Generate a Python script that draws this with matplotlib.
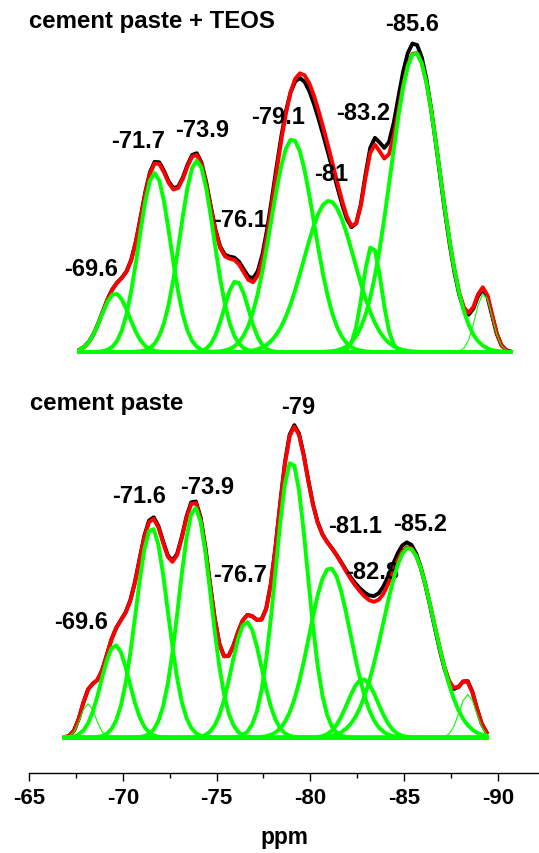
import numpy as np
import matplotlib
matplotlib.use('Agg')
import matplotlib.pyplot as plt
from matplotlib.ticker import MultipleLocator

plt.rcParams['font.family'] = ['Liberation Sans', 'DejaVu Sans']
plt.rcParams['font.weight'] = 'bold'

# fitted peaks, cement paste + TEOS (top trace)
teos_centers = [-69.6, -71.7, -73.95, -76.05, -79.05, -81.0, -83.3, -85.6, -89.25]
teos_heights = [0.19, 0.58, 0.62, 0.23, 0.69, 0.49, 0.345, 0.97, 0.19]
teos_sigmas = [0.75, 0.85, 0.9, 0.65, 1.15, 1.35, 0.5, 1.3, 0.45]
# measured spectrum, drawn as the same band set with its own positions/heights
teos_exp_centers = [-69.6, -71.7, -73.95, -76.05, -79.0, -81.0, -83.3, -85.55, -89.25]
teos_exp_heights = [0.19, 0.585, 0.625, 0.235, 0.69, 0.48, 0.345, 1.0, 0.185]
teos_labels = ['-69.6', '-71.7', '-73.9', '-76.1', '-79.1', '-81', '-83.2', '-85.6']
teos_range = (-67.7, -90.85)

# fitted peaks, cement paste (bottom trace)
cp_centers = [-68.15, -69.6, -71.55, -73.85, -76.6, -79.0, -81.05, -82.8, -85.25, -88.4]
cp_heights = [0.11, 0.30, 0.68, 0.745, 0.375, 0.895, 0.55, 0.19, 0.615, 0.14]
cp_sigmas = [0.4, 0.75, 0.85, 0.85, 0.8, 0.85, 1.1, 0.8, 1.35, 0.45]
cp_exp_centers = [-68.15, -69.6, -71.55, -73.85, -76.6, -79.0, -81.05, -82.8, -85.2, -88.4]
cp_exp_heights = [0.11, 0.30, 0.685, 0.75, 0.375, 0.9, 0.55, 0.19, 0.63, 0.145]
cp_labels = ['-69.6', '-71.6', '-73.9', '-76.7', '-79', '-81.1', '-82.8', '-85.2']
cp_range = (-66.9, -89.6)

thin_teos = [8]
thin_cp = [0, 9]
offset_top = 1.249

# label positions (ppm, intensity)
teos_label_pos = [(-68.31, 1.499), (-70.84, 1.913), (-74.23, 1.950), (-76.23, 1.656),
                  (-78.30, 1.991), (-81.10, 1.805), (-82.82, 2.004), (-85.44, 2.293)]
cp_label_pos = [(-67.79, 0.354), (-70.88, 0.764), (-74.51, 0.794), (-76.28, 0.508),
                (-79.36, 1.050), (-82.38, 0.667), (-83.30, 0.516), (-85.84, 0.672)]


def gauss(x, c, h, s):
    return h * np.exp(-(x - c) ** 2 / (2 * s ** 2))


fig = plt.figure(figsize=(5.39, 8.54), dpi=100)
ax = fig.add_axes([29 / 539, 79.7 / 854, 510 / 539, 774.3 / 854])


def draw_trace(centers, heights, sigmas, exp_centers, exp_heights, xr, off, thin):
    x = np.arange(xr[0], xr[1] - 0.01, -0.25)
    comps = [gauss(x, c, h, s) for c, h, s in zip(centers, heights, sigmas)]
    fit = np.sum(comps, axis=0)
    meas = np.sum([gauss(x, c, h, s) for c, h, s in zip(exp_centers, exp_heights, sigmas)], axis=0)
    ax.plot(x, meas + off, color='black', lw=2.8, zorder=2)
    ax.plot(x, fit + off, color='#ff0000', lw=2.8, zorder=3)
    for i, comp in enumerate(comps):
        ax.plot(x, comp + off, color='#00ff00', lw=0.8 if i in thin else 2.8, zorder=4)


draw_trace(teos_centers, teos_heights, teos_sigmas, teos_exp_centers, teos_exp_heights,
           teos_range, offset_top, thin_teos)
draw_trace(cp_centers, cp_heights, cp_sigmas, cp_exp_centers, cp_exp_heights,
           cp_range, 0.0, thin_cp)

fs = 17
for lab, (px, py) in zip(teos_labels, teos_label_pos):
    ax.text(px, py, lab, ha='center', va='baseline', fontsize=fs, fontweight='bold')
for lab, (px, py) in zip(cp_labels, cp_label_pos):
    ax.text(px, py, lab, ha='center', va='baseline', fontsize=fs, fontweight='bold')
ax.text(-65.01, 2.303, 'cement paste + TEOS', ha='left', va='baseline', fontsize=17.3, fontweight='bold')
ax.text(-65.03, 1.066, 'cement paste', ha='left', va='baseline', fontsize=17.3, fontweight='bold')

ax.set_xlim(-65, -92.2)
ax.set_ylim(-0.1155, 2.3926)
for side in ['top', 'right', 'left']:
    ax.spines[side].set_visible(False)
ax.spines['bottom'].set_linewidth(1.0)
ax.set_yticks([])
ax.set_xticks([-65, -70, -75, -80, -85, -90])
ax.set_xticklabels(['-65', '-70', '-75', '-80', '-85', '-90'])
ax.xaxis.set_minor_locator(MultipleLocator(2.5))
ax.tick_params(axis='x', which='major', length=5.8, width=1, pad=4, labelsize=16)
ax.tick_params(axis='x', which='minor', length=3.6, width=1)
for t in ax.get_xticklabels():
    t.set_fontweight('bold')
ax.set_xlabel('ppm', fontsize=16.3, fontweight='bold', labelpad=12)

fig.savefig('out.png', dpi=100)
